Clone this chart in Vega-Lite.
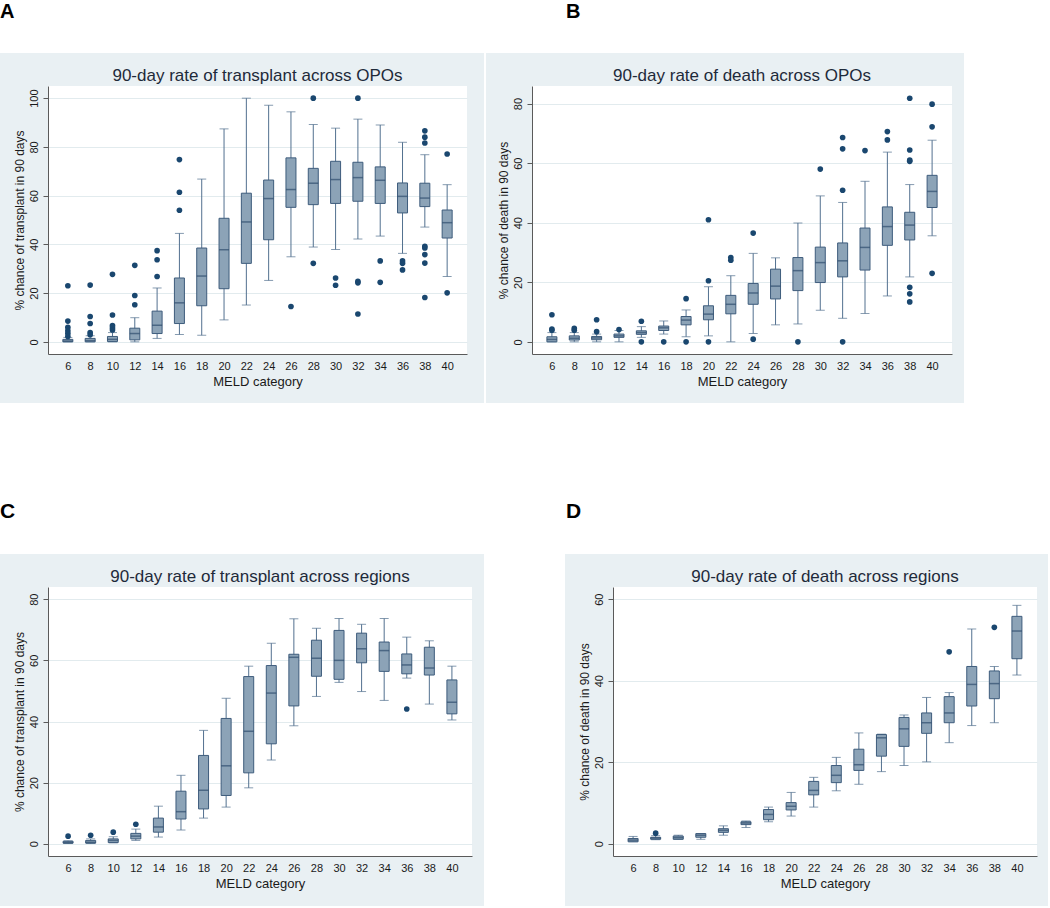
{
"$schema": "https://vega.github.io/schema/vega-lite/v6.json",
"background": "#E9F0F3",
"padding": 0,
"spacing": 0,
"config": {
  "view": {"stroke": null},
  "font": "Liberation Sans",
  "axis": {"labelFont": "Liberation Sans", "titleFont": "Liberation Sans", "labelColor": "#1a1a1a", "titleColor": "#1a1a1a", "titleFontWeight": "normal", "domainColor": "#5a5a5a", "tickColor": "#5a5a5a", "gridColor": "#E2EBEE", "labelFontSize": 11},
  "axisX": {"grid": false, "ticks": false, "tickSize": 0, "labelPadding": 6.5, "titlePadding": 4, "titleFontSize": 13, "labelAngle": 0},
  "axisY": {"grid": true, "tickSize": 5, "labelAngle": -90, "labelAlign": "center", "labelBaseline": "bottom", "labelPadding": 3.5, "titlePadding": 2, "titleFontSize": 12},
  "title": {"font": "Liberation Sans", "fontWeight": "normal", "fontSize": 17, "color": "#1E2A3A", "frame": "group", "anchor": "middle"}
},
"datasets": {
  "bA": [
    {"m":6,"lo":0,"q1":0,"md":0.3,"q3":1.0,"hi":1.8},
    {"m":8,"lo":0,"q1":0,"md":0.5,"q3":1.4,"hi":2.5},
    {"m":10,"lo":0,"q1":0.1,"md":1.0,"q3":2.2,"hi":3.8},
    {"m":12,"lo":0,"q1":0.8,"md":3.4,"q3":5.6,"hi":9.9},
    {"m":14,"lo":1.4,"q1":3.4,"md":6.8,"q3":12.6,"hi":22.1},
    {"m":16,"lo":3.0,"q1":7.5,"md":16.0,"q3":26.2,"hi":44.5},
    {"m":18,"lo":2.7,"q1":14.8,"md":27.0,"q3":38.5,"hi":66.8},
    {"m":20,"lo":9.0,"q1":21.8,"md":37.8,"q3":50.7,"hi":87.4},
    {"m":22,"lo":15.1,"q1":32.2,"md":49.2,"q3":61.0,"hi":100},
    {"m":24,"lo":25.2,"q1":41.9,"md":58.8,"q3":66.4,"hi":97.1},
    {"m":26,"lo":34.9,"q1":55.2,"md":62.5,"q3":75.5,"hi":94.4},
    {"m":28,"lo":38.9,"q1":56.3,"md":65.1,"q3":71.2,"hi":89.2},
    {"m":30,"lo":37.9,"q1":56.8,"md":66.6,"q3":74.1,"hi":87.7},
    {"m":32,"lo":42.2,"q1":57.7,"md":67.4,"q3":73.7,"hi":91.4},
    {"m":34,"lo":43.4,"q1":56.8,"md":66.3,"q3":71.8,"hi":89.0},
    {"m":36,"lo":36.3,"q1":52.9,"md":59.7,"q3":65.2,"hi":81.9},
    {"m":38,"lo":47.1,"q1":55.5,"md":59.0,"q3":65.1,"hi":76.8},
    {"m":40,"lo":26.8,"q1":42.6,"md":48.9,"q3":54.1,"hi":64.5}
  ],
  "oA": [
    {"m":6,"v":23.0},{"m":6,"v":8.5},{"m":6,"v":5.9},{"m":6,"v":4.5},{"m":6,"v":3.4},{"m":6,"v":2.2},
    {"m":8,"v":23.3},{"m":8,"v":10.4},{"m":8,"v":7.5},{"m":8,"v":3.8},{"m":8,"v":2.9},
    {"m":10,"v":27.7},{"m":10,"v":11.0},{"m":10,"v":6.7},{"m":10,"v":5.8},{"m":10,"v":4.9},
    {"m":12,"v":31.4},{"m":12,"v":19.0},{"m":12,"v":15.2},
    {"m":14,"v":37.4},{"m":14,"v":33.7},{"m":14,"v":26.8},
    {"m":16,"v":74.8},{"m":16,"v":61.4},{"m":16,"v":54.0},
    {"m":26,"v":14.5},
    {"m":28,"v":100},{"m":28,"v":32.2},
    {"m":30,"v":26.2},{"m":30,"v":23.2},
    {"m":32,"v":100},{"m":32,"v":24.8},{"m":32,"v":24.2},{"m":32,"v":11.4},
    {"m":34,"v":33.2},{"m":34,"v":24.4},
    {"m":36,"v":33.2},{"m":36,"v":32.2},{"m":36,"v":29.5},
    {"m":38,"v":86.6},{"m":38,"v":84.0},{"m":38,"v":81.6},{"m":38,"v":39.2},{"m":38,"v":38.5},{"m":38,"v":35.8},{"m":38,"v":32.3},{"m":38,"v":18.2},
    {"m":40,"v":77.1},{"m":40,"v":20.1}
  ],
  "bB": [
    {"m":6,"lo":0,"q1":0,"md":0.8,"q3":1.7,"hi":3.1},
    {"m":8,"lo":0,"q1":0.6,"md":1.2,"q3":2.0,"hi":3.1},
    {"m":10,"lo":0,"q1":0.7,"md":1.3,"q3":1.8,"hi":2.6},
    {"m":12,"lo":0,"q1":1.5,"md":2.0,"q3":2.6,"hi":3.8},
    {"m":14,"lo":1.5,"q1":2.5,"md":3.1,"q3":3.7,"hi":5.1},
    {"m":16,"lo":2.6,"q1":3.8,"md":4.7,"q3":5.3,"hi":7.0},
    {"m":18,"lo":1.7,"q1":5.7,"md":7.3,"q3":8.5,"hi":10.7},
    {"m":20,"lo":2.0,"q1":7.4,"md":9.3,"q3":12.1,"hi":18.5},
    {"m":22,"lo":0,"q1":9.4,"md":12.6,"q3":15.6,"hi":22.2},
    {"m":24,"lo":2.8,"q1":12.6,"md":16.4,"q3":19.6,"hi":29.7},
    {"m":26,"lo":5.7,"q1":14.4,"md":18.7,"q3":24.4,"hi":28.2},
    {"m":28,"lo":6.0,"q1":17.2,"md":23.9,"q3":28.3,"hi":39.9},
    {"m":30,"lo":10.6,"q1":19.9,"md":26.6,"q3":31.8,"hi":49.0},
    {"m":32,"lo":7.9,"q1":21.8,"md":27.2,"q3":33.2,"hi":46.8},
    {"m":34,"lo":9.5,"q1":24.1,"md":31.7,"q3":38.2,"hi":53.9},
    {"m":36,"lo":15.4,"q1":32.4,"md":38.7,"q3":45.3,"hi":63.7},
    {"m":38,"lo":21.8,"q1":34.2,"md":39.2,"q3":43.5,"hi":52.8},
    {"m":40,"lo":35.6,"q1":45.1,"md":50.5,"q3":55.9,"hi":67.7}
  ],
  "oB": [
    {"m":6,"v":9.1},{"m":6,"v":4.3},{"m":6,"v":3.9},
    {"m":8,"v":4.5},{"m":8,"v":3.9},
    {"m":10,"v":7.4},{"m":10,"v":3.4},
    {"m":12,"v":4.1},
    {"m":14,"v":6.9},{"m":14,"v":0},
    {"m":16,"v":0},
    {"m":18,"v":14.5},{"m":18,"v":0},
    {"m":20,"v":41.0},{"m":20,"v":20.5},{"m":20,"v":0},
    {"m":22,"v":28.3},{"m":22,"v":27.4},
    {"m":24,"v":36.5},{"m":24,"v":0.9},
    {"m":28,"v":0},
    {"m":30,"v":58.0},
    {"m":32,"v":68.6},{"m":32,"v":64.8},{"m":32,"v":50.9},{"m":32,"v":0},
    {"m":34,"v":64.2},
    {"m":36,"v":70.6},{"m":36,"v":67.8},
    {"m":38,"v":81.8},{"m":38,"v":64.4},{"m":38,"v":61.0},{"m":38,"v":60.6},{"m":38,"v":18.3},{"m":38,"v":16.1},{"m":38,"v":13.4},
    {"m":40,"v":79.8},{"m":40,"v":72.2},{"m":40,"v":23.0}
  ],
  "bC": [
    {"m":6,"lo":0.1,"q1":0.2,"md":0.4,"q3":0.8,"hi":1.0},
    {"m":8,"lo":0.1,"q1":0.2,"md":0.5,"q3":1.1,"hi":1.6},
    {"m":10,"lo":0.3,"q1":0.4,"md":1.1,"q3":1.6,"hi":2.3},
    {"m":12,"lo":1.1,"q1":1.6,"md":2.5,"q3":3.4,"hi":4.8},
    {"m":14,"lo":2.2,"q1":3.8,"md":5.5,"q3":8.4,"hi":12.3},
    {"m":16,"lo":4.5,"q1":8.1,"md":10.5,"q3":17.2,"hi":22.4},
    {"m":18,"lo":8.4,"q1":11.4,"md":17.5,"q3":28.9,"hi":37.1},
    {"m":20,"lo":12.0,"q1":15.8,"md":25.5,"q3":41.0,"hi":47.6},
    {"m":22,"lo":18.3,"q1":23.2,"md":36.8,"q3":54.7,"hi":58.1},
    {"m":24,"lo":27.4,"q1":32.7,"md":49.3,"q3":58.3,"hi":65.6},
    {"m":26,"lo":38.6,"q1":45.1,"md":61.0,"q3":62.0,"hi":73.6},
    {"m":28,"lo":48.2,"q1":54.8,"md":60.7,"q3":66.6,"hi":70.5},
    {"m":30,"lo":52.8,"q1":53.8,"md":60.0,"q3":69.8,"hi":73.7},
    {"m":32,"lo":49.8,"q1":59.2,"md":63.8,"q3":68.9,"hi":71.8},
    {"m":34,"lo":46.9,"q1":56.4,"md":63.2,"q3":66.0,"hi":73.7},
    {"m":36,"lo":54.2,"q1":55.6,"md":58.5,"q3":62.1,"hi":67.6},
    {"m":38,"lo":45.7,"q1":55.2,"md":57.5,"q3":64.3,"hi":66.4},
    {"m":40,"lo":40.5,"q1":42.5,"md":46.3,"q3":53.6,"hi":58.1}
  ],
  "oC": [
    {"m":6,"v":2.5},{"m":8,"v":2.8},{"m":10,"v":3.8},{"m":12,"v":6.4},{"m":36,"v":44.1}
  ],
  "bD": [
    {"m":6,"lo":0.5,"q1":0.5,"md":0.9,"q3":1.3,"hi":1.8},
    {"m":8,"lo":1.0,"q1":1.1,"md":1.4,"q3":1.6,"hi":2.0},
    {"m":10,"lo":1.1,"q1":1.1,"md":1.5,"q3":1.9,"hi":2.1},
    {"m":12,"lo":1.1,"q1":1.6,"md":2.1,"q3":2.5,"hi":2.5},
    {"m":14,"lo":2.1,"q1":2.8,"md":3.3,"q3":3.7,"hi":4.4},
    {"m":16,"lo":4.0,"q1":4.7,"md":5.1,"q3":5.4,"hi":5.6},
    {"m":18,"lo":5.4,"q1":5.9,"md":7.2,"q3":8.4,"hi":9.0},
    {"m":20,"lo":6.8,"q1":8.3,"md":9.2,"q3":10.1,"hi":12.6},
    {"m":22,"lo":9.0,"q1":12.0,"md":13.1,"q3":15.3,"hi":16.3},
    {"m":24,"lo":13.0,"q1":15.0,"md":16.8,"q3":19.2,"hi":21.2},
    {"m":26,"lo":14.6,"q1":18.0,"md":19.4,"q3":23.2,"hi":27.2},
    {"m":28,"lo":17.7,"q1":21.5,"md":26.0,"q3":26.8,"hi":26.9},
    {"m":30,"lo":19.2,"q1":23.9,"md":28.2,"q3":31.0,"hi":31.6},
    {"m":32,"lo":20.1,"q1":27.1,"md":29.7,"q3":32.1,"hi":35.9},
    {"m":34,"lo":24.8,"q1":29.7,"md":32.1,"q3":36.1,"hi":37.1},
    {"m":36,"lo":29.0,"q1":33.8,"md":39.1,"q3":43.5,"hi":52.7},
    {"m":38,"lo":29.7,"q1":35.6,"md":39.3,"q3":42.4,"hi":43.5},
    {"m":40,"lo":41.4,"q1":45.4,"md":52.2,"q3":55.8,"hi":58.5}
  ],
  "oD": [
    {"m":8,"v":2.6},{"m":34,"v":47.1},{"m":38,"v":53.1}
  ],
  "none": []
},
"vconcat": [
  {"hconcat": [
    {"width": 566, "height": 53, "data": {"name": "none"}, "mark": "rect", "encoding": {}, "view": {"fill": "#FFFFFF"},
     "title": {"text": "A", "orient": "bottom", "anchor": "start", "frame": "group", "offset": -35, "fontSize": 20, "fontWeight": "bold", "color": "#000000", "baseline": "alphabetic"}},
    {"width": 484, "height": 53, "data": {"name": "none"}, "mark": "rect", "encoding": {}, "view": {"fill": "#FFFFFF"},
     "title": {"text": "B", "orient": "bottom", "anchor": "start", "frame": "group", "offset": -35, "fontSize": 20, "fontWeight": "bold", "color": "#000000", "baseline": "alphabetic"}}
  ], "spacing": 0, "bounds": "flush"},
  {"hconcat": [
    {"width": 48, "height": 33, "data": {"name": "none"}, "mark": "rect", "encoding": {}},
    {"width": 419, "height": 33, "data": {"name": "none"}, "mark": "rect", "encoding": {},
     "title": {"text": "90-day rate of transplant across OPOs", "orient": "bottom", "offset": -5, "baseline": "alphabetic"}},
    {"width": 17, "height": 33, "data": {"name": "none"}, "mark": "rect", "encoding": {}},
    {"width": 2, "height": 33, "data": {"name": "none"}, "mark": "rect", "encoding": {}, "view": {"fill": "#FFFFFF"}},
    {"width": 46, "height": 33, "data": {"name": "none"}, "mark": "rect", "encoding": {}},
    {"width": 420, "height": 33, "data": {"name": "none"}, "mark": "rect", "encoding": {},
     "title": {"text": "90-day rate of death across OPOs", "orient": "bottom", "offset": -5, "baseline": "alphabetic"}},
    {"width": 12, "height": 33, "data": {"name": "none"}, "mark": "rect", "encoding": {}},
    {"width": 86, "height": 33, "data": {"name": "none"}, "mark": "rect", "encoding": {}, "view": {"fill": "#FFFFFF"}}
  ], "spacing": 0, "bounds": "flush"},
  {"hconcat": [
    {"width": 48, "height": 317, "data": {"name": "none"}, "mark": "rect", "encoding": {}},
    {"width": 419, "height": 268, "view": {"fill": "#FFFFFF"},
     "encoding": {"x": {"field": "m", "type": "ordinal", "title": "MELD category", "scale": {"type": "point", "padding": 0.89, "domain": [6,8,10,12,14,16,18,20,22,24,26,28,30,32,34,36,38,40]}}},
     "layer": [
      {"data": {"name": "bA"}, "mark": {"type": "rule", "color": "#52708F", "strokeWidth": 1},
       "encoding": {"y": {"field": "lo", "type": "quantitative", "title": "% chance of transplant in 90 days", "scale": {"domain": [-5,105], "nice": false, "zero": false}, "axis": {"values": [0,20,40,60,80,100]}}, "y2": {"field": "hi"}}},
      {"data": {"name": "bA"}, "mark": {"type": "tick", "color": "#52708F", "size": 9, "thickness": 1},
       "encoding": {"y": {"field": "lo", "type": "quantitative", "title": "% chance of transplant in 90 days", "scale": {"domain": [-5,105], "nice": false, "zero": false}, "axis": {"values": [0,20,40,60,80,100]}}}},
      {"data": {"name": "bA"}, "mark": {"type": "tick", "color": "#52708F", "size": 9, "thickness": 1},
       "encoding": {"y": {"field": "hi", "type": "quantitative", "title": "% chance of transplant in 90 days", "scale": {"domain": [-5,105], "nice": false, "zero": false}, "axis": {"values": [0,20,40,60,80,100]}}}},
      {"data": {"name": "bA"}, "mark": {"type": "bar", "size": 10, "fill": "#8CA3B7", "stroke": "#3E5C7C", "strokeWidth": 1},
       "encoding": {"y": {"field": "q1", "type": "quantitative", "title": "% chance of transplant in 90 days", "scale": {"domain": [-5,105], "nice": false, "zero": false}, "axis": {"values": [0,20,40,60,80,100]}}, "y2": {"field": "q3"}}},
      {"data": {"name": "bA"}, "mark": {"type": "tick", "color": "#2F4D6D", "size": 10, "thickness": 1.5},
       "encoding": {"y": {"field": "md", "type": "quantitative", "title": "% chance of transplant in 90 days", "scale": {"domain": [-5,105], "nice": false, "zero": false}, "axis": {"values": [0,20,40,60,80,100]}}}},
      {"data": {"name": "oA"}, "mark": {"type": "point", "filled": true, "size": 32, "color": "#1A476F", "opacity": 1},
       "encoding": {"y": {"field": "v", "type": "quantitative", "title": "% chance of transplant in 90 days", "scale": {"domain": [-5,105], "nice": false, "zero": false}, "axis": {"values": [0,20,40,60,80,100]}}}}
     ]},
    {"width": 17, "height": 317, "data": {"name": "none"}, "mark": "rect", "encoding": {}},
    {"width": 2, "height": 317, "data": {"name": "none"}, "mark": "rect", "encoding": {}, "view": {"fill": "#FFFFFF"}},
    {"width": 46, "height": 317, "data": {"name": "none"}, "mark": "rect", "encoding": {}},
    {"width": 420, "height": 268, "view": {"fill": "#FFFFFF"},
     "encoding": {"x": {"field": "m", "type": "ordinal", "title": "MELD category", "scale": {"type": "point", "padding": 0.89, "domain": [6,8,10,12,14,16,18,20,22,24,26,28,30,32,34,36,38,40]}}},
     "layer": [
      {"data": {"name": "bB"}, "mark": {"type": "rule", "color": "#52708F", "strokeWidth": 1},
       "encoding": {"y": {"field": "lo", "type": "quantitative", "title": "% chance of death in 90 days", "scale": {"domain": [-4.09,85.9], "nice": false, "zero": false}, "axis": {"values": [0,20,40,60,80]}}, "y2": {"field": "hi"}}},
      {"data": {"name": "bB"}, "mark": {"type": "tick", "color": "#52708F", "size": 9, "thickness": 1},
       "encoding": {"y": {"field": "lo", "type": "quantitative", "title": "% chance of death in 90 days", "scale": {"domain": [-4.09,85.9], "nice": false, "zero": false}, "axis": {"values": [0,20,40,60,80]}}}},
      {"data": {"name": "bB"}, "mark": {"type": "tick", "color": "#52708F", "size": 9, "thickness": 1},
       "encoding": {"y": {"field": "hi", "type": "quantitative", "title": "% chance of death in 90 days", "scale": {"domain": [-4.09,85.9], "nice": false, "zero": false}, "axis": {"values": [0,20,40,60,80]}}}},
      {"data": {"name": "bB"}, "mark": {"type": "bar", "size": 10, "fill": "#8CA3B7", "stroke": "#3E5C7C", "strokeWidth": 1},
       "encoding": {"y": {"field": "q1", "type": "quantitative", "title": "% chance of death in 90 days", "scale": {"domain": [-4.09,85.9], "nice": false, "zero": false}, "axis": {"values": [0,20,40,60,80]}}, "y2": {"field": "q3"}}},
      {"data": {"name": "bB"}, "mark": {"type": "tick", "color": "#2F4D6D", "size": 10, "thickness": 1.5},
       "encoding": {"y": {"field": "md", "type": "quantitative", "title": "% chance of death in 90 days", "scale": {"domain": [-4.09,85.9], "nice": false, "zero": false}, "axis": {"values": [0,20,40,60,80]}}}},
      {"data": {"name": "oB"}, "mark": {"type": "point", "filled": true, "size": 32, "color": "#1A476F", "opacity": 1},
       "encoding": {"y": {"field": "v", "type": "quantitative", "title": "% chance of death in 90 days", "scale": {"domain": [-4.09,85.9], "nice": false, "zero": false}, "axis": {"values": [0,20,40,60,80]}}}}
     ]},
    {"width": 12, "height": 317, "data": {"name": "none"}, "mark": "rect", "encoding": {}},
    {"width": 86, "height": 317, "data": {"name": "none"}, "mark": "rect", "encoding": {}, "view": {"fill": "#FFFFFF"}}
  ], "spacing": 0, "bounds": "flush"},
  {"hconcat": [
    {"width": 566, "height": 151, "data": {"name": "none"}, "mark": "rect", "encoding": {}, "view": {"fill": "#FFFFFF"},
     "title": {"text": "C", "orient": "bottom", "anchor": "start", "frame": "group", "offset": -36, "fontSize": 21, "fontWeight": "bold", "color": "#000000", "baseline": "alphabetic"}},
    {"width": 484, "height": 151, "data": {"name": "none"}, "mark": "rect", "encoding": {}, "view": {"fill": "#FFFFFF"},
     "title": {"text": "D", "orient": "bottom", "anchor": "start", "frame": "group", "offset": -36, "fontSize": 21, "fontWeight": "bold", "color": "#000000", "baseline": "alphabetic"}}
  ], "spacing": 0, "bounds": "flush"},
  {"hconcat": [
    {"width": 48, "height": 33, "data": {"name": "none"}, "mark": "rect", "encoding": {}},
    {"width": 424, "height": 33, "data": {"name": "none"}, "mark": "rect", "encoding": {},
     "title": {"text": "90-day rate of transplant across regions", "orient": "bottom", "offset": -5, "baseline": "alphabetic"}},
    {"width": 12, "height": 33, "data": {"name": "none"}, "mark": "rect", "encoding": {}},
    {"width": 81, "height": 33, "data": {"name": "none"}, "mark": "rect", "encoding": {}, "view": {"fill": "#FFFFFF"}},
    {"width": 48, "height": 33, "data": {"name": "none"}, "mark": "rect", "encoding": {}},
    {"width": 424, "height": 33, "data": {"name": "none"}, "mark": "rect", "encoding": {},
     "title": {"text": "90-day rate of death across regions", "orient": "bottom", "offset": -5, "baseline": "alphabetic"}},
    {"width": 11, "height": 33, "data": {"name": "none"}, "mark": "rect", "encoding": {}},
    {"width": 2, "height": 33, "data": {"name": "none"}, "mark": "rect", "encoding": {}, "view": {"fill": "#FFFFFF"}}
  ], "spacing": 0, "bounds": "flush"},
  {"hconcat": [
    {"width": 48, "height": 319, "data": {"name": "none"}, "mark": "rect", "encoding": {}},
    {"width": 424, "height": 269, "view": {"fill": "#FFFFFF"},
     "encoding": {"x": {"field": "m", "type": "ordinal", "title": "MELD category", "scale": {"type": "point", "padding": 0.89, "domain": [6,8,10,12,14,16,18,20,22,24,26,28,30,32,34,36,38,40]}}},
     "layer": [
      {"data": {"name": "bC"}, "mark": {"type": "rule", "color": "#52708F", "strokeWidth": 1},
       "encoding": {"y": {"field": "lo", "type": "quantitative", "title": "% chance of transplant in 90 days", "scale": {"domain": [-4,84], "nice": false, "zero": false}, "axis": {"values": [0,20,40,60,80]}}, "y2": {"field": "hi"}}},
      {"data": {"name": "bC"}, "mark": {"type": "tick", "color": "#52708F", "size": 9, "thickness": 1},
       "encoding": {"y": {"field": "lo", "type": "quantitative", "title": "% chance of transplant in 90 days", "scale": {"domain": [-4,84], "nice": false, "zero": false}, "axis": {"values": [0,20,40,60,80]}}}},
      {"data": {"name": "bC"}, "mark": {"type": "tick", "color": "#52708F", "size": 9, "thickness": 1},
       "encoding": {"y": {"field": "hi", "type": "quantitative", "title": "% chance of transplant in 90 days", "scale": {"domain": [-4,84], "nice": false, "zero": false}, "axis": {"values": [0,20,40,60,80]}}}},
      {"data": {"name": "bC"}, "mark": {"type": "bar", "size": 10, "fill": "#8CA3B7", "stroke": "#3E5C7C", "strokeWidth": 1},
       "encoding": {"y": {"field": "q1", "type": "quantitative", "title": "% chance of transplant in 90 days", "scale": {"domain": [-4,84], "nice": false, "zero": false}, "axis": {"values": [0,20,40,60,80]}}, "y2": {"field": "q3"}}},
      {"data": {"name": "bC"}, "mark": {"type": "tick", "color": "#2F4D6D", "size": 10, "thickness": 1.5},
       "encoding": {"y": {"field": "md", "type": "quantitative", "title": "% chance of transplant in 90 days", "scale": {"domain": [-4,84], "nice": false, "zero": false}, "axis": {"values": [0,20,40,60,80]}}}},
      {"data": {"name": "oC"}, "mark": {"type": "point", "filled": true, "size": 32, "color": "#1A476F", "opacity": 1},
       "encoding": {"y": {"field": "v", "type": "quantitative", "title": "% chance of transplant in 90 days", "scale": {"domain": [-4,84], "nice": false, "zero": false}, "axis": {"values": [0,20,40,60,80]}}}}
     ]},
    {"width": 12, "height": 319, "data": {"name": "none"}, "mark": "rect", "encoding": {}},
    {"width": 81, "height": 319, "data": {"name": "none"}, "mark": "rect", "encoding": {}, "view": {"fill": "#FFFFFF"}},
    {"width": 48, "height": 319, "data": {"name": "none"}, "mark": "rect", "encoding": {}},
    {"width": 424, "height": 269, "view": {"fill": "#FFFFFF"},
     "encoding": {"x": {"field": "m", "type": "ordinal", "title": "MELD category", "scale": {"type": "point", "padding": 0.89, "domain": [6,8,10,12,14,16,18,20,22,24,26,28,30,32,34,36,38,40]}}},
     "layer": [
      {"data": {"name": "bD"}, "mark": {"type": "rule", "color": "#52708F", "strokeWidth": 1},
       "encoding": {"y": {"field": "lo", "type": "quantitative", "title": "% chance of death in 90 days", "scale": {"domain": [-3,63], "nice": false, "zero": false}, "axis": {"values": [0,20,40,60]}}, "y2": {"field": "hi"}}},
      {"data": {"name": "bD"}, "mark": {"type": "tick", "color": "#52708F", "size": 9, "thickness": 1},
       "encoding": {"y": {"field": "lo", "type": "quantitative", "title": "% chance of death in 90 days", "scale": {"domain": [-3,63], "nice": false, "zero": false}, "axis": {"values": [0,20,40,60]}}}},
      {"data": {"name": "bD"}, "mark": {"type": "tick", "color": "#52708F", "size": 9, "thickness": 1},
       "encoding": {"y": {"field": "hi", "type": "quantitative", "title": "% chance of death in 90 days", "scale": {"domain": [-3,63], "nice": false, "zero": false}, "axis": {"values": [0,20,40,60]}}}},
      {"data": {"name": "bD"}, "mark": {"type": "bar", "size": 10, "fill": "#8CA3B7", "stroke": "#3E5C7C", "strokeWidth": 1},
       "encoding": {"y": {"field": "q1", "type": "quantitative", "title": "% chance of death in 90 days", "scale": {"domain": [-3,63], "nice": false, "zero": false}, "axis": {"values": [0,20,40,60]}}, "y2": {"field": "q3"}}},
      {"data": {"name": "bD"}, "mark": {"type": "tick", "color": "#2F4D6D", "size": 10, "thickness": 1.5},
       "encoding": {"y": {"field": "md", "type": "quantitative", "title": "% chance of death in 90 days", "scale": {"domain": [-3,63], "nice": false, "zero": false}, "axis": {"values": [0,20,40,60]}}}},
      {"data": {"name": "oD"}, "mark": {"type": "point", "filled": true, "size": 32, "color": "#1A476F", "opacity": 1},
       "encoding": {"y": {"field": "v", "type": "quantitative", "title": "% chance of death in 90 days", "scale": {"domain": [-3,63], "nice": false, "zero": false}, "axis": {"values": [0,20,40,60]}}}}
     ]},
    {"width": 11, "height": 319, "data": {"name": "none"}, "mark": "rect", "encoding": {}},
    {"width": 2, "height": 319, "data": {"name": "none"}, "mark": "rect", "encoding": {}, "view": {"fill": "#FFFFFF"}}
  ], "spacing": 0, "bounds": "flush"}
]
}
